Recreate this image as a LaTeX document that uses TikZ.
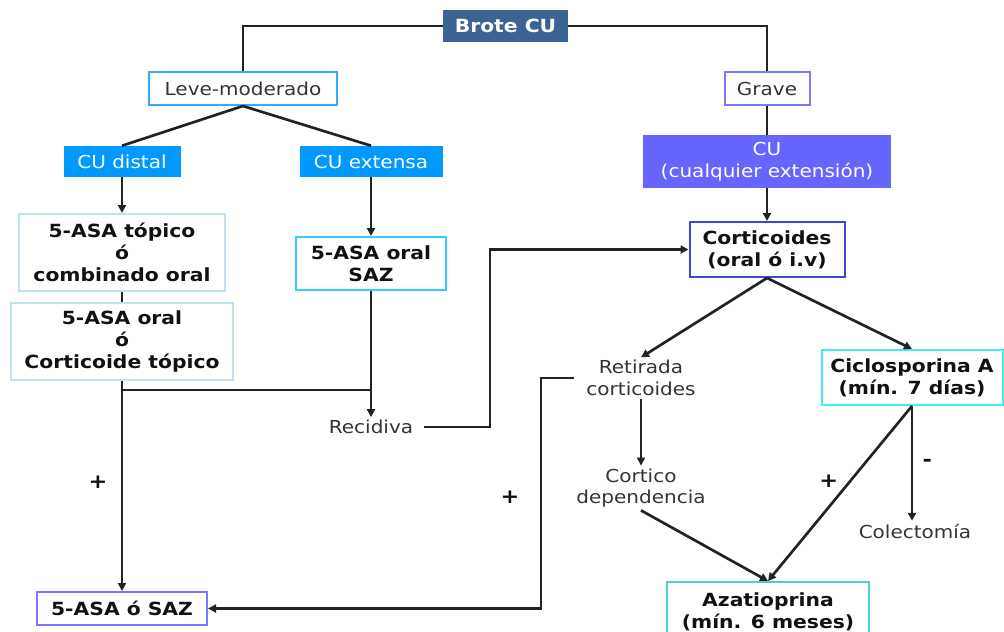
\documentclass[tikz,border=0pt]{standalone}
\usepackage{fontspec}
\setmainfont[FakeStretch=1.12]{DejaVu Sans}
\usetikzlibrary{arrows.meta}
\definecolor{brote}{HTML}{3B6494}
\definecolor{leveb}{HTML}{33AAFF}
\definecolor{graveb}{HTML}{7777FF}
\definecolor{cub}{HTML}{0099FF}
\definecolor{cuv}{HTML}{6666FF}
\definecolor{pale}{HTML}{BFE3EE}
\definecolor{cyanb}{HTML}{33CCFF}
\definecolor{cortb}{HTML}{4444DD}
\definecolor{ciclob}{HTML}{44EEEE}
\definecolor{azatb}{HTML}{55CCCC}
\definecolor{asab}{HTML}{7777FF}
\definecolor{txt}{HTML}{333333}
\definecolor{btxt}{HTML}{111111}
\definecolor{lncol}{HTML}{222222}
\begin{document}
\begin{tikzpicture}[x=0.75pt,y=-0.75pt,
  every node/.style={font=\fontsize{13.4}{16.2}\selectfont, text=txt, align=center, inner sep=2pt},
  sz/.style 2 args={minimum width=#1*0.75pt, minimum height=#2*0.75pt, inner sep=0pt},
  bx/.style={draw=#1, line width=1.5pt},
  fbx/.style={fill=#1, text=white},
  bold/.style={font=\fontsize{13.6}{16.4}\selectfont\bfseries, text=btxt},
  plus/.style={font=\fontsize{15}{16}\selectfont\bfseries, text=btxt},
  ln/.style={line width=2pt, draw=lncol},
  arr/.style={ln, -{Triangle[length=6pt,width=6pt]}},
]
\useasboundingbox (0,0) rectangle (1004,632);

\node[sz={125}{32}, bold, fbx=brote] (brote) at (505.5,26) {Brote CU};
\node[sz={188}{33}, bx=leveb] (leve) at (243,88.5) {Leve-moderado};
\node[sz={85}{33}, bx=graveb] (grave) at (767,88.5) {Grave};
\node[sz={117}{31}, fbx=cub] (cudist) at (122,161.5) {CU distal};
\node[sz={143}{31}, fbx=cub] (cuext) at (371,161.5) {CU extensa};
\node[sz={248}{53}, fbx=cuv] (cuany) at (767,161.5) {CU\\(cualquier extensión)};
\node[sz={206}{77}, bx=pale, bold] (top) at (122,252.5) {5-ASA tópico\\ó\\combinado oral};
\node[sz={222}{77}, bx=pale, bold] (orcort) at (122,341.5) {5-ASA oral\\ó\\Corticoide tópico};
\node[sz={150}{53}, bx=cyanb, bold] (oralsaz) at (371,263.5) {5-ASA oral\\SAZ};
\node (recid) at (371,427) {Recidiva};
\node[sz={155}{55}, bx=cortb, bold] (cortic) at (767,249.5) {Corticoides\\(oral ó i.v)};
\node (retir) at (641,378) {Retirada\\corticoides};
\node[sz={181}{55}, bx=ciclob, bold] (ciclo) at (912,377.5) {Ciclosporina A\\(mín. 7 días)};
\node (cortdep) at (641,488) {Cortico\\dependencia};
\node (colect) at (915,531) {Colectomía};
\node[sz={202}{60}, bx=azatb, bold] (azat) at (768,612) {Azatioprina\\(mín. 6 meses)};
\node[sz={170}{33}, bx=asab, bold] (asasaz) at (122,608.5) {5-ASA ó SAZ};

\coordinate (yj) at (0,390);
\coordinate (rx) at (490,0);
\coordinate (lx) at (541,0);

\draw[ln] (brote.west) -| (leve.north);
\draw[ln] (brote.east) -| (grave.north);
\draw[ln] (leve.south) -- (cudist.north);
\draw[ln] (leve.south) -- (cuext.north);
\draw[ln] (grave.south) -- (cuany.north);
\draw[arr] (cudist.south) -- (top.north);
\draw[ln] (top.south) -- (orcort.north);
\draw[arr] (cuext.south) -- (oralsaz.north);
\draw[arr] (oralsaz.south) -- (recid.north);
\draw[ln] (orcort.south |- yj) -- (oralsaz.south |- yj);
\draw[arr] (orcort.south) -- node[pos=0.48, left=8pt, plus]{+} (asasaz.north);
\draw[arr, shorten <=6pt] (recid.east) -| (rx |- cortic.west) -- (cortic.west);
\draw[arr] (cuany.south) -- (cortic.north);
\draw[arr] (cortic.south) -- (retir.north);
\draw[arr] (cortic.south) -- (ciclo.north);
\draw[arr] (retir.south) -- (cortdep.north);
\draw[arr] (cortdep.south) -- (azat.north);
\draw[arr] (ciclo.south) -- node[pos=0.43, left=6pt, plus]{+} (azat.north);
\draw[arr] (ciclo.south) -- node[pos=0.5, right=5pt, plus]{-} (ciclo.south |- colect.north);
\draw[arr, shorten <=7pt] (retir.west) -| (lx |- asasaz.east) -- (asasaz.east);
\node[plus] (plus3) at (510,497) {+};
\end{tikzpicture}
\end{document}
